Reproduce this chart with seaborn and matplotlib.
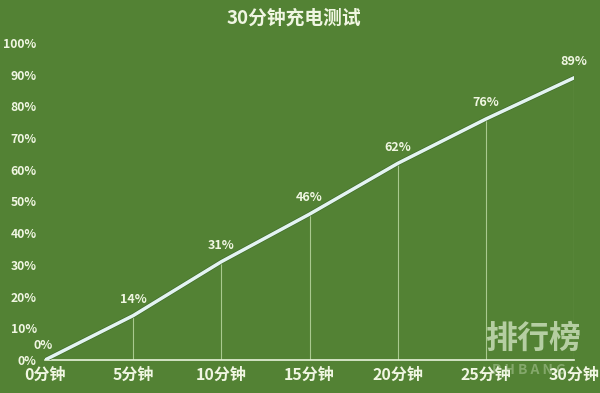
import seaborn as sns
import pandas as pd
import matplotlib.pyplot as plt

minutes = [0, 5, 10, 15, 20, 25, 30]
charge = [0, 14, 31, 46, 62, 76, 89]
x_labels = ["0分钟", "5分钟", "10分钟", "15分钟", "20分钟", "25分钟", "30分钟"]
y_ticks = [0, 10, 20, 30, 40, 50, 60, 70, 80, 90, 100]

df = pd.DataFrame({"minutes": minutes, "charge": charge})

sns.set_theme(style="white")
plt.rcParams['font.family'] = ['Noto Sans CJK SC', 'DejaVu Sans']

bg = "#538234"
txt = "#f0f6e2"

fig = plt.figure(figsize=(6, 3.93), dpi=100, facecolor=bg)
ax = fig.add_axes([0.075, 0.084, 0.882, 0.807])
ax.set_facecolor(bg)

# thin drop lines from each point
ax.vlines(df["minutes"][1:], 0, df["charge"][1:], color="#a9c98f", linewidth=0.8)

sns.lineplot(data=df, x="minutes", y="charge", ax=ax, color="#3d6828",
             linewidth=3.4, zorder=3)
sns.lineplot(data=df, x="minutes", y="charge", ax=ax, color="#e4f4f2",
             linewidth=2.5, zorder=4)

for m, c in zip(minutes, charge):
    if m == 0:
        ax.annotate(f"{c}%", (m, c), xytext=(-1, 6), textcoords="offset points",
                    ha="center", va="bottom", color=txt, fontsize=9, fontweight="bold")
    else:
        ax.annotate(f"{c}%", (m, c), xytext=(0, 7), textcoords="offset points",
                    ha="center", va="bottom", color=txt, fontsize=9, fontweight="bold")

ax.set_xlim(0, 30)
ax.set_ylim(0, 100)
ax.set_xticks(minutes)
ax.set_xticklabels(x_labels)
ax.set_yticks(y_ticks)
ax.set_yticklabels([f"{v}%" for v in y_ticks])
ax.tick_params(axis="x", colors=txt, labelsize=11.5, length=0, pad=5)
ax.tick_params(axis="y", colors=txt, labelsize=8.8, length=0, pad=6)
for lab in ax.get_xticklabels() + ax.get_yticklabels():
    lab.set_fontweight("bold")
ax.set_xlabel("")
ax.set_ylabel("")

for s in ["top", "right", "left"]:
    ax.spines[s].set_visible(False)
ax.spines["bottom"].set_color("#e8f2dc")
ax.spines["bottom"].set_linewidth(1.2)

fig.text(0.49, 0.955, "30分钟充电测试", ha="center", va="center",
         color=txt, fontsize=13.5, fontweight="bold")

# watermark
fig.text(0.888, 0.138, "排行榜", ha="center", va="center", color="#cfe2bf",
         alpha=0.8, fontsize=23, fontweight="bold")
fig.text(0.882, 0.058, "P H B A N G", ha="center", va="center", color="#cfe2bf",
         alpha=0.4, fontsize=10, fontweight="bold", style="italic")

fig.savefig("out.png", dpi=100, facecolor=bg)
